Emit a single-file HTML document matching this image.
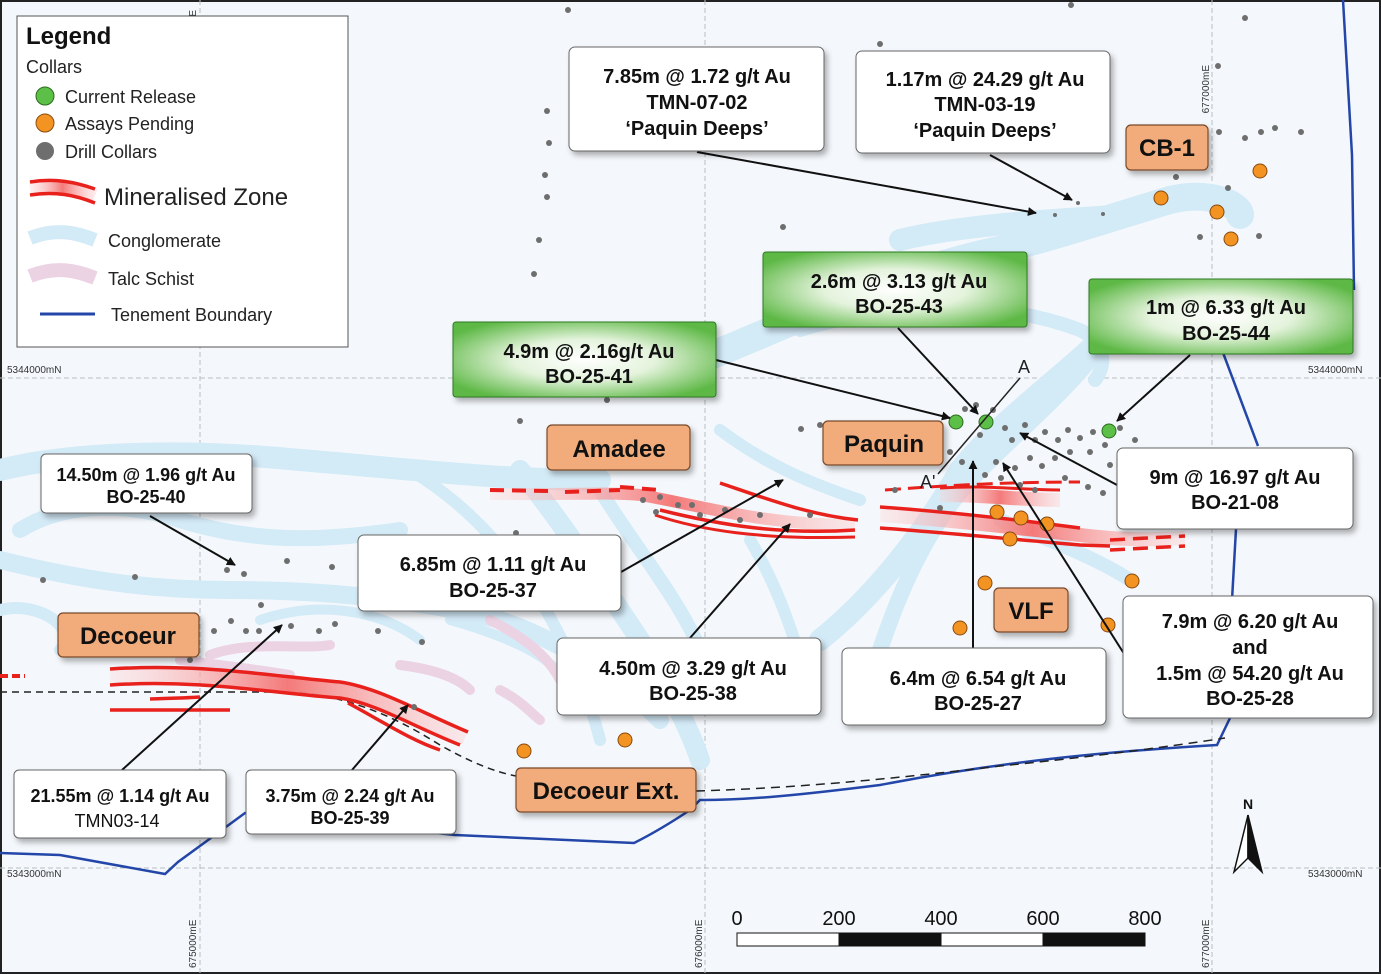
<!DOCTYPE html>
<html><head><meta charset="utf-8"><style>
html,body{margin:0;padding:0;background:#fff;}
svg{display:block;font-family:"Liberation Sans",Arial,sans-serif;}
</style></head><body>
<svg width="1381" height="974" viewBox="0 0 1381 974" xmlns="http://www.w3.org/2000/svg">
<defs>
<radialGradient id="gr" cx="50%" cy="50%" r="60%">
<stop offset="0" stop-color="#ffffff"/><stop offset="0.45" stop-color="#e4f3dc"/><stop offset="1" stop-color="#5db845"/>
</radialGradient>
<linearGradient id="rz" x1="0" x2="1"><stop offset="0" stop-color="#ffd0d0" stop-opacity="0.3"/><stop offset="0.5" stop-color="#f47a7a"/><stop offset="1" stop-color="#ffd0d0" stop-opacity="0.4"/></linearGradient>
<marker id="ah" viewBox="0 0 10 10" refX="9" refY="5" markerWidth="9" markerHeight="9" markerUnits="userSpaceOnUse" orient="auto"><path d="M0,0 L10,5 L0,10 z" fill="#111"/></marker>
<filter id="sh" x="-10%" y="-10%" width="130%" height="140%"><feDropShadow dx="3" dy="4" stdDeviation="3" flood-color="#000" flood-opacity="0.3"/></filter>
</defs>
<rect x="0" y="0" width="1381" height="974" fill="#f4f8fc"/>
<rect x="1" y="1" width="1379" height="972" fill="none" stroke="#222" stroke-width="2"/>
<!-- grid -->
<g stroke="#b9bec4" stroke-width="1" stroke-dasharray="5,3" fill="none">
<line x1="200" y1="0" x2="200" y2="974"/><line x1="705" y1="0" x2="705" y2="974"/><line x1="1212" y1="0" x2="1212" y2="974"/>
<line x1="0" y1="378" x2="1381" y2="378"/><line x1="0" y1="868" x2="1381" y2="868"/>
</g>
<!-- conglomerate -->
<g fill="none" stroke="#d3eaf7" stroke-linecap="round" stroke-linejoin="round">
<path d="M700,360 C800,320 900,270 1000,250 C1060,235 1120,215 1170,200 C1210,190 1240,205 1240,215" stroke-width="28"/>
<path d="M900,240 C960,225 1050,220 1130,215" stroke-width="22"/>
<path d="M800,330 C900,300 1000,300 1080,330 C1100,340 1110,360 1095,380" stroke-width="14"/>
<path d="M1110,330 C1060,380 1000,420 960,470 C920,540 870,600 820,640" stroke-width="22"/>
<path d="M1090,360 C1040,420 970,470 940,520 C900,580 880,650 860,710" stroke-width="16"/>
<path d="M0,470 C80,450 200,450 300,460 C420,470 500,480 600,480" stroke-width="22"/>
<path d="M20,530 C60,505 120,500 180,520 C260,545 330,540 400,530" stroke-width="16"/>
<path d="M0,560 C80,580 150,590 230,590 C330,590 420,600 500,620 C560,640 620,680 660,720" stroke-width="18"/>
<path d="M520,470 C560,520 600,580 640,640 C670,690 690,730 700,760" stroke-width="20"/>
<path d="M600,490 C630,540 680,600 700,650" stroke-width="14"/>
<path d="M410,470 C460,500 500,540 540,600 C570,650 590,700 600,740" stroke-width="12"/>
<path d="M0,610 C40,600 80,630 60,650" stroke-width="12"/>
<path d="M260,620 C320,600 380,610 420,640" stroke-width="10"/>
<path d="M450,620 C520,640 560,660 580,700" stroke-width="10"/>
<path d="M720,430 C760,460 800,480 860,500" stroke-width="12"/>
<path d="M750,540 C780,590 800,650 810,700" stroke-width="12"/>
<path d="M1000,520 C1050,540 1100,560 1130,580" stroke-width="14"/>
</g>
<!-- talc schist -->
<g fill="none" stroke="#ecd3e4" stroke-linecap="round" stroke-width="10">
<path d="M210,655 C250,640 300,650 330,645"/>
<path d="M180,660 C220,665 260,670 290,675"/>
<path d="M400,665 C440,670 460,680 470,690"/>
<path d="M490,620 C530,640 550,660 560,680"/>
<path d="M500,690 C520,700 530,712 540,720"/>
</g>
<!-- tenement boundary -->
<g fill="none" stroke="#2346a8" stroke-width="2.5">
<path d="M1343,0 L1352,155 L1354,290"/>
<path d="M1222,350 L1258,446"/>
<path d="M1236,529 L1232,600"/>
<path d="M1230,718 L1217,745 C1100,752 1000,762 880,785 C800,795 750,800 700,800 L690,810 C660,830 640,840 634,843 L455,835 L245,813 L215,835 L178,862 L165,874 L60,855 L0,853"/>
</g>
<!-- dashed section line -->
<path d="M0,692 L300,692 C360,700 400,720 440,745 C470,762 495,772 516,776" fill="none" stroke="#222" stroke-width="1.5" stroke-dasharray="7,5"/>
<path d="M696,791 C800,788 900,778 1000,766 C1100,756 1180,745 1225,738" fill="none" stroke="#222" stroke-width="1.5" stroke-dasharray="9,6"/>
<!-- mineralised zones -->
<g stroke-linecap="butt" fill="none">
<path d="M110,676 C200,670 270,685 340,690 C380,695 420,720 465,738" stroke="url(#rz)" stroke-width="14"/>
<path d="M110,669 C200,663 270,676 340,682 C380,688 420,712 468,732" stroke="#e8211c" stroke-width="3.5"/>
<path d="M110,685 C200,679 270,693 340,698 C375,703 410,725 460,745" stroke="#e8211c" stroke-width="3.5"/>
<path d="M110,710 C150,710 190,710 230,710" stroke="#e8211c" stroke-width="3.5"/>
<path d="M150,699 C170,698 190,698 200,697" stroke="#e8211c" stroke-width="3.5"/>
<path d="M348,703 C380,720 410,740 440,750" stroke="#e8211c" stroke-width="3.5"/>
<path d="M0,676 L25,676" stroke="#e8211c" stroke-width="4" stroke-dasharray="8,4"/>
<path d="M490,494 C560,495 610,492 640,495 C700,505 760,525 855,525" stroke="url(#rz)" stroke-width="12"/>
<path d="M490,490 L550,491 M565,492 L620,490 M620,487 L660,490" stroke="#e8211c" stroke-width="4" stroke-dasharray="14,8"/>
<path d="M660,510 C720,525 780,535 855,530" stroke="#e8211c" stroke-width="3.5"/>
<path d="M720,483 C770,500 810,515 858,520" stroke="#e8211c" stroke-width="3.5"/>
<path d="M655,515 C700,530 760,540 855,537" stroke="#e8211c" stroke-width="3"/>
<path d="M880,515 C950,520 1020,528 1080,535 C1120,540 1150,540 1185,538" stroke="url(#rz)" stroke-width="14"/>
<path d="M880,507 C950,512 1020,520 1080,528" stroke="#e8211c" stroke-width="3.5"/>
<path d="M880,528 C950,533 1020,540 1080,545 L1110,546" stroke="#e8211c" stroke-width="3.5"/>
<path d="M1110,540 L1185,536 M1110,550 L1185,546" stroke="#e8211c" stroke-width="3.5" stroke-dasharray="15,8"/>
<path d="M885,490 C940,486 1000,482 1080,482" stroke="#e8211c" stroke-width="3" stroke-dasharray="16,7"/>
<path d="M940,495 C990,495 1020,500 1060,500" stroke="url(#rz)" stroke-width="14"/>
<path d="M940,488 C990,485 1020,490 1060,490" stroke="#e8211c" stroke-width="3"/>
</g>
<!-- gray collars -->
<g fill="#6e6e6e">
<circle cx="568" cy="10" r="3"/><circle cx="1071" cy="5" r="3"/><circle cx="1245" cy="18" r="3"/><circle cx="880" cy="44" r="3"/><circle cx="547" cy="111" r="3"/><circle cx="549" cy="143" r="3"/><circle cx="545" cy="175" r="3"/><circle cx="547" cy="197" r="3"/><circle cx="539" cy="240" r="3"/><circle cx="534" cy="274" r="3"/><circle cx="783" cy="227" r="3"/><circle cx="1218" cy="66" r="3"/><circle cx="1219" cy="132" r="3"/><circle cx="1261" cy="132" r="3"/><circle cx="1245" cy="138" r="3"/><circle cx="1275" cy="128" r="3"/><circle cx="1301" cy="132" r="3"/><circle cx="1176" cy="177" r="3"/><circle cx="1228" cy="188" r="3"/><circle cx="1200" cy="237" r="3"/><circle cx="1259" cy="236" r="3"/><circle cx="1055" cy="215" r="2"/><circle cx="1078" cy="203" r="2"/><circle cx="1103" cy="214" r="2"/>
<circle cx="607" cy="400" r="3"/><circle cx="520" cy="421" r="3"/><circle cx="801" cy="429" r="3"/><circle cx="980" cy="315" r="3"/><circle cx="965" cy="409" r="3"/><circle cx="976" cy="405" r="3"/><circle cx="993" cy="410" r="3"/><circle cx="980" cy="435" r="3"/><circle cx="1005" cy="428" r="3"/><circle cx="1012" cy="440" r="3"/><circle cx="1025" cy="425" r="3"/><circle cx="1035" cy="440" r="3"/><circle cx="1045" cy="432" r="3"/><circle cx="1058" cy="440" r="3"/><circle cx="1068" cy="430" r="3"/><circle cx="1080" cy="438" r="3"/><circle cx="1093" cy="432" r="3"/><circle cx="1105" cy="445" r="3"/><circle cx="1090" cy="452" r="3"/><circle cx="1070" cy="452" r="3"/><circle cx="1055" cy="458" r="3"/><circle cx="1042" cy="466" r="3"/><circle cx="1030" cy="458" r="3"/><circle cx="1015" cy="468" r="3"/><circle cx="996" cy="462" r="3"/><circle cx="985" cy="475" r="3"/><circle cx="962" cy="462" r="3"/><circle cx="950" cy="452" r="3"/><circle cx="1110" cy="465" r="3"/><circle cx="1065" cy="478" r="3"/><circle cx="1088" cy="487" r="3"/><circle cx="1103" cy="493" r="3"/><circle cx="1035" cy="490" r="3"/><circle cx="1020" cy="485" r="3"/><circle cx="1135" cy="440" r="3"/><circle cx="1120" cy="428" r="3"/><circle cx="1001" cy="478" r="3"/><circle cx="895" cy="490" r="3"/><circle cx="940" cy="508" r="3"/><circle cx="820" cy="425" r="3"/>
<circle cx="643" cy="500" r="3"/><circle cx="660" cy="497" r="3"/><circle cx="678" cy="505" r="3"/><circle cx="692" cy="505" r="3"/><circle cx="656" cy="512" r="3"/><circle cx="700" cy="515" r="3"/><circle cx="725" cy="510" r="3"/><circle cx="740" cy="520" r="3"/><circle cx="760" cy="515" r="3"/><circle cx="810" cy="515" r="3"/><circle cx="516" cy="533" r="3"/>
<circle cx="43" cy="580" r="3"/><circle cx="135" cy="577" r="3"/><circle cx="227" cy="570" r="3"/><circle cx="244" cy="574" r="3"/><circle cx="287" cy="561" r="3"/><circle cx="332" cy="567" r="3"/><circle cx="261" cy="605" r="3"/><circle cx="214" cy="631" r="3"/><circle cx="231" cy="621" r="3"/><circle cx="246" cy="631" r="3"/><circle cx="259" cy="631" r="3"/><circle cx="291" cy="626" r="3"/><circle cx="319" cy="631" r="3"/><circle cx="335" cy="624" r="3"/><circle cx="378" cy="631" r="3"/><circle cx="422" cy="642" r="3"/><circle cx="190" cy="660" r="3"/><circle cx="414" cy="707" r="3"/>
</g>
<!-- orange / green collars -->
<g fill="#f39321" stroke="#8a4a10" stroke-width="1">
<circle cx="1161" cy="198" r="7"/><circle cx="1217" cy="212" r="7"/><circle cx="1231" cy="239" r="7"/><circle cx="1260" cy="171" r="7"/><circle cx="997" cy="512" r="7"/><circle cx="1021" cy="518" r="7"/><circle cx="1047" cy="524" r="7"/><circle cx="1010" cy="539" r="7"/><circle cx="1132" cy="581" r="7"/><circle cx="985" cy="583" r="7"/><circle cx="960" cy="628" r="7"/><circle cx="1108" cy="625" r="7"/><circle cx="524" cy="751" r="7"/><circle cx="625" cy="740" r="7"/>
</g>
<g fill="#5cbf47" stroke="#2c6b1e" stroke-width="1">
<circle cx="956" cy="422" r="7"/><circle cx="986" cy="422" r="7"/><circle cx="1109" cy="431" r="7"/>
</g>
<!-- section line -->
<line x1="1020" y1="378" x2="938" y2="474" stroke="#222" stroke-width="1.5"/>
<text x="1018" y="373" font-size="18" fill="#222">A</text>
<text x="920" y="488" font-size="18" fill="#222">A'</text>
<!-- arrows -->
<g stroke="#111" stroke-width="2" marker-end="url(#ah)">
<line x1="697" y1="152" x2="1036" y2="213"/>
<line x1="990" y1="155" x2="1072" y2="200"/>
<line x1="898" y1="328" x2="978" y2="414"/>
<line x1="1190" y1="355" x2="1117" y2="421"/>
<line x1="716" y1="360" x2="950" y2="418"/>
<line x1="150" y1="516" x2="235" y2="565"/>
<line x1="621" y1="572" x2="783" y2="480"/>
<line x1="690" y1="638" x2="790" y2="524"/>
<line x1="973" y1="648" x2="973" y2="461"/>
<line x1="1128" y1="660" x2="1003" y2="463"/>
<line x1="1117" y1="485" x2="1020" y2="433"/>
<line x1="122" y1="770" x2="282" y2="625"/>
<line x1="352" y1="770" x2="408" y2="705"/>
</g>
<!-- coordinate labels -->
<g font-size="10" fill="#333">
<text x="7" y="373">5344000mN</text><text x="1308" y="373">5344000mN</text>
<text x="7" y="877">5343000mN</text><text x="1308" y="877">5343000mN</text>
<text transform="translate(196,10) rotate(-90)" text-anchor="end" x="0" y="0">675000mE</text>
<text transform="translate(702,50) rotate(-90)" text-anchor="end">676000mE</text>
<text transform="translate(1209,65) rotate(-90)" text-anchor="end">677000mE</text>
<text transform="translate(196,968) rotate(-90)">675000mE</text>
<text transform="translate(702,968) rotate(-90)">676000mE</text>
<text transform="translate(1209,968) rotate(-90)">677000mE</text>
</g>
<!-- legend -->
<rect x="17" y="16" width="331" height="331" fill="#fff" stroke="#555" stroke-width="1"/>
<text x="26" y="44" font-size="24" font-weight="bold" fill="#111">Legend</text>
<text x="26" y="73" font-size="18" fill="#222">Collars</text>
<circle cx="45" cy="96" r="9" fill="#5cbf47" stroke="#2c6b1e"/><text x="65" y="103" font-size="18" fill="#222">Current Release</text>
<circle cx="45" cy="123" r="9" fill="#f39321" stroke="#8a4a10"/><text x="65" y="130" font-size="18" fill="#222">Assays Pending</text>
<circle cx="45" cy="151" r="9" fill="#6e6e6e"/><text x="65" y="158" font-size="18" fill="#222">Drill Collars</text>
<path d="M30,188 C55,184 75,188 95,196" stroke="url(#rz)" stroke-width="14" fill="none"/>
<path d="M30,182 C55,178 75,182 95,189 M30,195 C55,191 75,195 95,203" stroke="#e8211c" stroke-width="3.5" fill="none"/>
<text x="104" y="205" font-size="24" fill="#222">Mineralised Zone</text>
<path d="M30,238 C55,228 75,232 95,240" stroke="#d3eaf7" stroke-width="14" fill="none"/>
<text x="108" y="247" font-size="18" fill="#222">Conglomerate</text>
<path d="M30,276 C55,266 75,270 95,278" stroke="#ecd3e4" stroke-width="14" fill="none"/>
<text x="108" y="285" font-size="18" fill="#222">Talc Schist</text>
<line x1="40" y1="314" x2="95" y2="314" stroke="#2346a8" stroke-width="3"/>
<text x="111" y="321" font-size="18" fill="#222">Tenement Boundary</text>
<!-- white callouts -->
<g filter="url(#sh)" fill="#fff" stroke="#666" stroke-width="1">
<rect x="569" y="47" width="255" height="104" rx="6"/>
<rect x="856" y="51" width="254" height="102" rx="6"/>
<rect x="41" y="454" width="211" height="59" rx="5"/>
<rect x="1117" y="448" width="236" height="81" rx="6"/>
<rect x="358" y="535" width="263" height="76" rx="6"/>
<rect x="557" y="638" width="264" height="77" rx="6"/>
<rect x="842" y="648" width="264" height="77" rx="6"/>
<rect x="1123" y="596" width="250" height="122" rx="6"/>
<rect x="14" y="770" width="212" height="68" rx="5"/>
<rect x="246" y="770" width="210" height="64" rx="5"/>
</g>
<!-- green callouts -->
<g filter="url(#sh)" fill="url(#gr)" stroke="#2f7a22" stroke-width="1">
<rect x="763" y="252" width="264" height="75" rx="3"/>
<rect x="1089" y="279" width="264" height="75" rx="3"/>
<rect x="453" y="322" width="263" height="75" rx="3"/>
</g>
<!-- orange labels -->
<g filter="url(#sh)" fill="#f2ac7c" stroke="#7a4a2a" stroke-width="1.2">
<rect x="1126" y="125" width="82" height="45" rx="5"/>
<rect x="547" y="425" width="143" height="45" rx="5"/>
<rect x="823" y="421" width="120" height="44" rx="5"/>
<rect x="58" y="613" width="141" height="44" rx="5"/>
<rect x="994" y="588" width="74" height="44" rx="5"/>
<rect x="516" y="768" width="180" height="44" rx="5"/>
</g>
<g font-size="24" font-weight="bold" fill="#111" text-anchor="middle">
<text x="1167" y="156">CB-1</text>
<text x="619" y="457">Amadee</text>
<text x="884" y="452">Paquin</text>
<text x="128" y="644">Decoeur</text>
<text x="1031" y="619">VLF</text>
<text x="606" y="799">Decoeur Ext.</text>
</g>
<g font-size="20" font-weight="bold" fill="#111" text-anchor="middle">
<text x="697" y="83">7.85m @ 1.72 g/t Au</text><text x="697" y="109">TMN-07-02</text><text x="697" y="135">‘Paquin Deeps’</text>
<text x="985" y="86">1.17m @ 24.29 g/t Au</text><text x="985" y="111">TMN-03-19</text><text x="985" y="137">‘Paquin Deeps’</text>
<text x="899" y="288">2.6m @ 3.13 g/t Au</text><text x="899" y="313">BO-25-43</text>
<text x="1226" y="314">1m @ 6.33 g/t Au</text><text x="1226" y="340">BO-25-44</text>
<text x="589" y="358">4.9m @  2.16g/t Au</text><text x="589" y="383">BO-25-41</text>
<text x="1235" y="484">9m @ 16.97 g/t Au</text><text x="1235" y="509">BO-21-08</text>
<text x="493" y="571">6.85m @ 1.11 g/t Au</text><text x="493" y="597">BO-25-37</text>
<text x="693" y="675">4.50m @ 3.29 g/t Au</text><text x="693" y="700">BO-25-38</text>
<text x="978" y="685">6.4m @ 6.54 g/t Au</text><text x="978" y="710">BO-25-27</text>
<text x="1250" y="628">7.9m @ 6.20 g/t Au</text><text x="1250" y="654">and</text><text x="1250" y="680">1.5m @ 54.20 g/t Au</text><text x="1250" y="705">BO-25-28</text>
</g>
<g font-size="18" font-weight="bold" fill="#111" text-anchor="middle">
<text x="146" y="481">14.50m @ 1.96 g/t Au</text><text x="146" y="503">BO-25-40</text>
<text x="120" y="802">21.55m @ 1.14 g/t Au</text>
<text x="350" y="802">3.75m @ 2.24 g/t Au</text><text x="350" y="824">BO-25-39</text>
</g>
<text x="117" y="827" font-size="18" fill="#111" text-anchor="middle">TMN03-14</text>
<!-- north arrow -->
<text x="1248" y="809" font-size="14" font-weight="bold" text-anchor="middle" fill="#111">N</text>
<path d="M1248,815 L1234,872 L1248,858 z" fill="#fff" stroke="#111" stroke-width="1.5"/>
<path d="M1248,815 L1262,872 L1248,858 z" fill="#111" stroke="#111" stroke-width="1.5"/>
<!-- scale bar -->
<g stroke="#111" stroke-width="1">
<rect x="737" y="933" width="102" height="13" fill="#fff"/>
<rect x="839" y="933" width="102" height="13" fill="#111"/>
<rect x="941" y="933" width="102" height="13" fill="#fff"/>
<rect x="1043" y="933" width="102" height="13" fill="#111"/>
</g>
<g font-size="20" fill="#111" text-anchor="middle">
<text x="737" y="925">0</text><text x="839" y="925">200</text><text x="941" y="925">400</text><text x="1043" y="925">600</text><text x="1145" y="925">800</text>
</g>
</svg>
</body></html>
